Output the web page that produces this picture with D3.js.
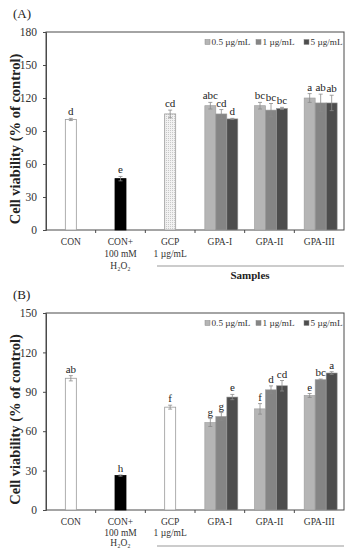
<!DOCTYPE html>
<html>
<head>
<meta charset="utf-8">
<script src="https://cdn.jsdelivr.net/npm/d3@7"></script>
<style>
  html, body { margin: 0; padding: 0; background: #fff; }
  svg { display: block; font-family: "Liberation Serif", "Times New Roman", serif; }
</style>
</head>
<body>
<svg id="fig" width="351" height="548"></svg>
<script>
// ---- data ----
const categories = ["CON", "CON+H2O2", "GCP", "GPA-I", "GPA-II", "GPA-III"];
const catLabels = [["CON"], ["CON+", "100 mM", "H₂O₂"], ["GCP", "1 µg/mL"], ["GPA-I"], ["GPA-II"], ["GPA-III"]];
const doses = ["0.5 µg/mL", "1 µg/mL", "5 µg/mL"];

// panel A
const ticksA = [0, 30, 60, 90, 120, 150, 180];
const singleA = [100.5, 46.7, 105.5];
const singleErrA = [1, 2, 3.5];
const singleLetA = ["d", "e", "cd"];
const gpaA = [[113, 105.5, 101], [113, 109, 110.5], [120, 115.5, 115.5]];
const gpaErrA = [[3, 4, 0.5], [3, 6, 1], [4, 8, 7]];
const gpaLetA = [["abc", "cd", "d"], ["bc", "bc", "bc"], ["a", "ab", "ab"]];

// panel B
const ticksB = [0, 30, 60, 90, 120, 150];
const singleB = [100.3, 26.2, 78.3];
const singleErrB = [2, 0.5, 1.5];
const singleLetB = ["ab", "h", "f"];
const gpaB = [[66.6, 71.2, 86], [77, 91.5, 94.6], [87.2, 99.2, 104.3]];
const gpaErrB = [[3, 3, 2], [4, 3, 4], [1.5, 0.5, 1]];
const gpaLetB = [["g", "g", "e"], ["f", "d", "cd"], ["e", "bc", "a"]];

const doseColors = ["#b5b5b5", "#858585", "#4d4d4d"];
const singleFills = ["#ffffff", "#000000", "url(#dots)"];

const svg = d3.select("#fig");

// dotted pattern for GCP (panel A)
const defs = svg.append("defs");
const pat = defs.append("pattern").attr("id", "dots")
  .attr("patternUnits", "userSpaceOnUse").attr("width", 2).attr("height", 2);
pat.append("rect").attr("width", 2).attr("height", 2).attr("fill", "#f2f2f2");
pat.append("rect").attr("width", 1).attr("height", 1).attr("fill", "#c8c8c8");

function drawPanel(cfg) {
  const g = svg.append("g");
  const x = d3.scaleBand().domain(categories).range([cfg.left, cfg.right]).padding(0);
  const y = d3.scaleLinear().domain([0, cfg.ymax]).range([cfg.bottom, cfg.top]);
  const barW = 11;
  const axisCol = "#4a4a4a";

  // panel label
  g.append("text").attr("x", 13).attr("y", cfg.top - 14)
    .attr("font-size", 13).attr("fill", "#222").text(cfg.tag);

  // frame
  g.append("rect").attr("x", cfg.left).attr("y", cfg.top)
    .attr("width", cfg.right - cfg.left).attr("height", cfg.bottom - cfg.top)
    .attr("fill", "none").attr("stroke", axisCol).attr("stroke-width", 1);

  // y axis
  const ya = g.append("g").attr("transform", `translate(${cfg.left},0)`)
    .call(d3.axisLeft(y).tickValues(cfg.ticks).tickSize(3).tickPadding(6));
  ya.select(".domain").attr("stroke", axisCol);
  ya.selectAll(".tick line").attr("stroke", axisCol);
  ya.selectAll(".tick text").attr("font-size", 11.5).attr("fill", "#333")
    .attr("font-family", "Liberation Serif");

  // x ticks at band boundaries
  const bounds = categories.slice(1).map(c => x(c));
  g.selectAll(".xt").data(bounds).join("line")
    .attr("x1", d => d).attr("x2", d => d)
    .attr("y1", cfg.bottom).attr("y2", cfg.bottom + 3)
    .attr("stroke", axisCol);

  // x labels
  categories.forEach((c, i) => {
    const t = g.append("text").attr("x", x(c) + x.bandwidth() / 2)
      .attr("y", cfg.bottom + 15).attr("text-anchor", "middle")
      .attr("font-size", 9.5).attr("fill", "#333");
    catLabels[i].forEach((ln, j) => {
      t.append("tspan").attr("x", x(c) + x.bandwidth() / 2)
        .attr("dy", j === 0 ? 0 : cfg.lineGap).text(ln);
    });
  });

  // samples bracket
  g.append("line").attr("x1", 157).attr("x2", cfg.right)
    .attr("y1", cfg.bottom + 36).attr("y2", cfg.bottom + 36)
    .attr("stroke", "#999").attr("stroke-width", 1);
  if (cfg.showSamples) {
    g.append("text").attr("x", 250).attr("y", cfg.bottom + 49)
      .attr("text-anchor", "middle").attr("font-size", 11).attr("font-weight", "bold")
      .attr("fill", "#222").text("Samples");
  }

  // y title
  g.append("text")
    .attr("transform", `translate(20,${(cfg.top + cfg.bottom) / 2 + 8}) rotate(-90)`)
    .attr("text-anchor", "middle").attr("font-size", 14.5).attr("font-weight", "bold")
    .attr("fill", "#222").text("Cell viability (% of control)");

  // error bar helper
  function errBar(cx, v, e) {
    g.append("line").attr("x1", cx).attr("x2", cx)
      .attr("y1", y(v - e)).attr("y2", y(v + e))
      .attr("stroke", "#8a8a8a").attr("stroke-width", 0.8);
    [v - e, v + e].forEach(w => {
      g.append("line").attr("x1", cx - 2).attr("x2", cx + 2)
        .attr("y1", y(w)).attr("y2", y(w))
        .attr("stroke", "#8a8a8a").attr("stroke-width", 0.8);
    });
  }
  function letter(cx, v, e, s) {
    g.append("text").attr("x", cx).attr("y", y(v + e) - 3)
      .attr("text-anchor", "middle").attr("font-size", 11).attr("fill", "#222").text(s);
  }

  // single bars
  cfg.single.forEach((v, i) => {
    const c = categories[i];
    const cx = x(c) + x.bandwidth() / 2;
    g.append("rect").attr("x", cx - barW / 2).attr("y", y(v))
      .attr("width", barW).attr("height", y(0) - y(v))
      .attr("fill", (cfg.plainGcp && i === 2) ? "#ffffff" : singleFills[i])
      .attr("stroke", i === 1 ? "#000" : "#9a9a9a").attr("stroke-width", 0.8);
    errBar(cx, v, cfg.singleErr[i]);
    letter(cx, v, cfg.singleErr[i], cfg.singleLet[i]);
  });

  // grouped bars
  const sub = d3.scaleBand().domain(doses).range([0, barW * 3]).padding(0);
  cfg.gpa.forEach((vals, gi) => {
    const c = categories[3 + gi];
    const x0 = x(c) + x.bandwidth() / 2 - barW * 1.5 + 1.5;
    vals.forEach((v, di) => {
      const bx = x0 + sub(doses[di]);
      g.append("rect").attr("x", bx).attr("y", y(v))
        .attr("width", sub.bandwidth()).attr("height", y(0) - y(v))
        .attr("fill", doseColors[di]).attr("stroke", "#9a9a9a").attr("stroke-width", 0.6);
      errBar(bx + sub.bandwidth() / 2, v, cfg.gpaErr[gi][di]);
      letter(bx + sub.bandwidth() / 2, v, cfg.gpaErr[gi][di], cfg.gpaLet[gi][di]);
    });
  });

  // legend
  const lg = g.append("g").attr("transform", `translate(205,${cfg.top + 13})`);
  const offs = [0, 51, 99];
  doses.forEach((d, i) => {
    lg.append("rect").attr("x", offs[i]).attr("y", -5.5).attr("width", 5).attr("height", 5)
      .attr("fill", doseColors[i]).attr("stroke", "#888").attr("stroke-width", 0.5);
    lg.append("text").attr("x", offs[i] + 6.5).attr("y", 0)
      .attr("font-size", 9.2).attr("fill", "#333").text(d);
  });
}

drawPanel({ tag: "(A)", top: 32, bottom: 230, left: 46, right: 344, ymax: 180, ticks: ticksA,
  single: singleA, singleErr: singleErrA, singleLet: singleLetA,
  gpa: gpaA, gpaErr: gpaErrA, gpaLet: gpaLetA, plainGcp: false, showSamples: true, lineGap: 12 });

drawPanel({ tag: "(B)", top: 313, bottom: 510, left: 46, right: 344, ymax: 150, ticks: ticksB,
  single: singleB, singleErr: singleErrB, singleLet: singleLetB,
  gpa: gpaB, gpaErr: gpaErrB, gpaLet: gpaLetB, plainGcp: true, showSamples: false, lineGap: 10.5 });
</script>
</body>
</html>
